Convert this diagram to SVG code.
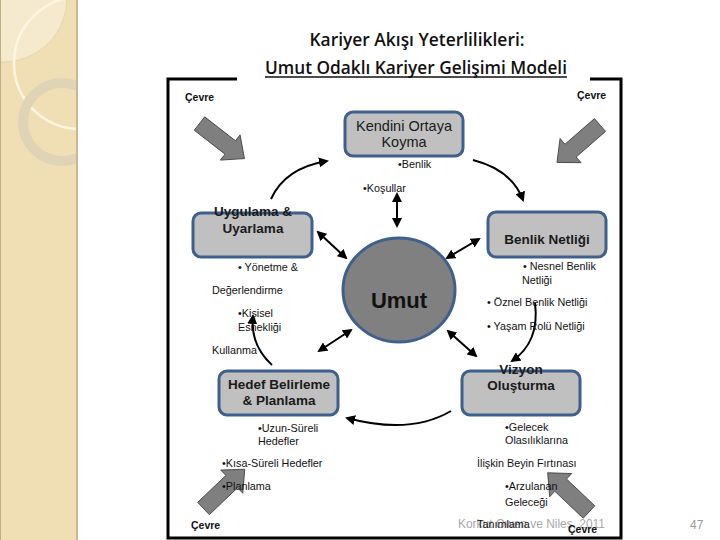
<svg xmlns="http://www.w3.org/2000/svg" width="720" height="540" viewBox="0 0 720 540">
<defs>
<style>
.t{font-family:"Liberation Sans",Arial,sans-serif;font-size:10.8px;fill:#111}
.cv{font-family:"Liberation Sans",Arial,sans-serif;font-size:10.5px;font-weight:bold;fill:#111}
.bx{fill:#c0c0c0;stroke:#3f5f8c;stroke-width:3}
.bl{font-family:"Liberation Sans",Arial,sans-serif;font-size:13.5px;font-weight:bold;fill:#1a1a1a;text-anchor:middle}
.ln{fill:none;stroke:#000;stroke-width:2}
.big{fill:#7f7f7f;stroke:#3c3c3c;stroke-width:0.8}
.ttl{font-family:"Open Sans","Liberation Sans",sans-serif;font-size:18px;font-weight:600;fill:#111;text-anchor:middle}
</style>
<marker id="ah" viewBox="0 0 10 10" refX="8" refY="5" markerWidth="5" markerHeight="5" orient="auto-start-reverse" markerUnits="strokeWidth">
<path d="M0,0 L10,5 L0,10 z" fill="#000"/>
</marker>
<clipPath id="sb"><rect x="0" y="0" width="78" height="540"/></clipPath>
<path id="barrow" d="M0,-8.5 L39,-8.5 L39,-16 L57,0 L39,16 L39,8.5 L0,8.5 z"/>
</defs>
<rect width="720" height="540" fill="#fff"/>
<g id="sidebar" clip-path="url(#sb)">
<rect x="0" y="0" width="78" height="540" fill="#f0dfb5"/>
<circle cx="3" cy="-2" r="64" fill="#f5eacd" stroke="#dacba3" stroke-width="0.6"/>
<circle cx="80" cy="63" r="66" fill="none" stroke="#fcf6e2" stroke-width="2.5"/>
<circle cx="62" cy="122" r="39" fill="none" stroke="#e0d4b6" stroke-width="10"/>
<line x1="0.5" y1="0" x2="0.5" y2="540" stroke="#bfae86" stroke-width="1"/>
<line x1="77" y1="0" x2="77" y2="540" stroke="#c7b993" stroke-width="2"/>
</g>
<g id="title">
<text class="ttl" x="417" y="46" textLength="215" lengthAdjust="spacingAndGlyphs">Kariyer Akışı Yeterlilikleri:</text>
<text class="ttl" x="416" y="74" textLength="302" lengthAdjust="spacingAndGlyphs">Umut Odaklı Kariyer Gelişimi Modeli</text>
<line x1="265" y1="77" x2="567" y2="77" stroke="#111" stroke-width="1.6"/>
</g>
<path id="frame" d="M237,79 H168 V538 H621 V79 H590" fill="none" stroke="#000" stroke-width="3"/>
<g id="env-arrows">
<use href="#barrow" class="big" transform="translate(199.5,123.5) rotate(38)"/>
<use href="#barrow" class="big" transform="translate(600,125) rotate(139)"/>
<use href="#barrow" class="big" transform="translate(203.5,508.5) rotate(-43.6)"/>
<use href="#barrow" class="big" transform="translate(589,512) rotate(-136.5)"/>
</g>
<g id="connectors">
<line class="ln" x1="397" y1="194" x2="397" y2="226" marker-start="url(#ah)" marker-end="url(#ah)"/>
<line class="ln" x1="318" y1="232" x2="346" y2="258" marker-start="url(#ah)" marker-end="url(#ah)"/>
<line class="ln" x1="447" y1="258" x2="479" y2="239" marker-start="url(#ah)" marker-end="url(#ah)"/>
<line class="ln" x1="319" y1="351" x2="351" y2="330" marker-start="url(#ah)" marker-end="url(#ah)"/>
<line class="ln" x1="448" y1="331" x2="476" y2="356" marker-start="url(#ah)" marker-end="url(#ah)"/>
<path class="ln" d="M271,199 Q285,168 327,161" marker-end="url(#ah)"/>
<path class="ln" d="M473,160 Q512,170 523,200" marker-end="url(#ah)"/>
<path class="ln" d="M535,303 Q540,342 512,361" marker-end="url(#ah)"/>
<path class="ln" d="M451,411 Q410,435 347,418" marker-end="url(#ah)"/>
<path class="ln" d="M272,365 Q250,345 253,316" marker-end="url(#ah)"/>
</g>
<g id="node-kendini">
<rect class="bx" x="345" y="112" width="118" height="44" rx="8"/>
<text class="bl" x="404" y="131" style="font-weight:normal;font-size:14.5px">Kendini Ortaya</text>
<text class="bl" x="404" y="147" style="font-weight:normal;font-size:14.5px">Koyma</text>
</g>
<g id="node-uygulama">
<rect class="bx" x="193" y="213" width="119" height="44" rx="8"/>
<text class="bl" x="253" y="216">Uygulama &amp;</text>
<text class="bl" x="253" y="233">Uyarlama</text>
</g>
<g id="node-benlik">
<rect class="bx" x="488" y="212" width="118" height="45" rx="8"/>
<text class="bl" x="547" y="244">Benlik Netliği</text>
</g>
<g id="node-hedef">
<rect class="bx" x="219" y="371" width="119" height="44" rx="8"/>
<text class="bl" x="279" y="389">Hedef Belirleme</text>
<text class="bl" x="279" y="405">&amp; Planlama</text>
</g>
<g id="node-vizyon">
<rect class="bx" x="462" y="371" width="118" height="44" rx="8"/>
<text class="bl" x="521" y="374">Vizyon</text>
<text class="bl" x="521" y="390">Oluşturma</text>
</g>
<g id="node-umut">
<ellipse cx="399" cy="290" rx="56" ry="52" fill="#808080" stroke="#3f5f8c" stroke-width="3"/>
<text x="399" y="308" text-anchor="middle" style="font-family:'Liberation Sans',Arial,sans-serif;font-size:22px;font-weight:bold;fill:#111">Umut</text>
</g>
<g id="labels">
<text class="cv" x="185" y="101">Çevre</text>
<text class="cv" x="577" y="99">Çevre</text>
<text class="cv" x="191" y="529">Çevre</text>
<text x="458" y="528" textLength="147" lengthAdjust="spacingAndGlyphs" style="font-family:'Liberation Sans',Arial,sans-serif;font-size:12px;fill:#a8a8a8">Korkut Owen ve Niles, 2011</text>
<text class="cv" x="568" y="533">Çevre</text>
<text x="690" y="529" style="font-family:'Liberation Sans',Arial,sans-serif;font-size:12px;fill:#9a9a9a">47</text>
<text class="t" x="398" y="168">•Benlik</text>
<text class="t" x="363" y="192">•Koşullar</text>
<text class="t" x="238" y="271">• Yönetme &amp;</text>
<text class="t" x="212" y="294">Değerlendirme</text>
<text class="t" x="238" y="317">•Kişisel</text>
<text class="t" x="238" y="331">Esnekliği</text>
<text class="t" x="212" y="354">Kullanma</text>
<text class="t" x="523" y="270">• Nesnel Benlik</text>
<text class="t" x="522" y="284">Netliği</text>
<text class="t" x="487" y="306">• Öznel Benlik Netliği</text>
<text class="t" x="487" y="330">• Yaşam  Rolü Netliği</text>
<text class="t" x="258" y="432">•Uzun-Süreli</text>
<text class="t" x="258" y="445">Hedefler</text>
<text class="t" x="222" y="467">•Kısa-Süreli Hedefler</text>
<text class="t" x="222" y="490">•Planlama</text>
<text class="t" x="505" y="431">•Gelecek</text>
<text class="t" x="505" y="444">Olasılıklarına</text>
<text class="t" x="477" y="467">İlişkin Beyin Fırtınası</text>
<text class="t" x="505" y="490">•Arzulanan</text>
<text class="t" x="505" y="506">Geleceği</text>
<text class="t" x="477" y="528">Tanımlama</text>
</g>
</svg>
